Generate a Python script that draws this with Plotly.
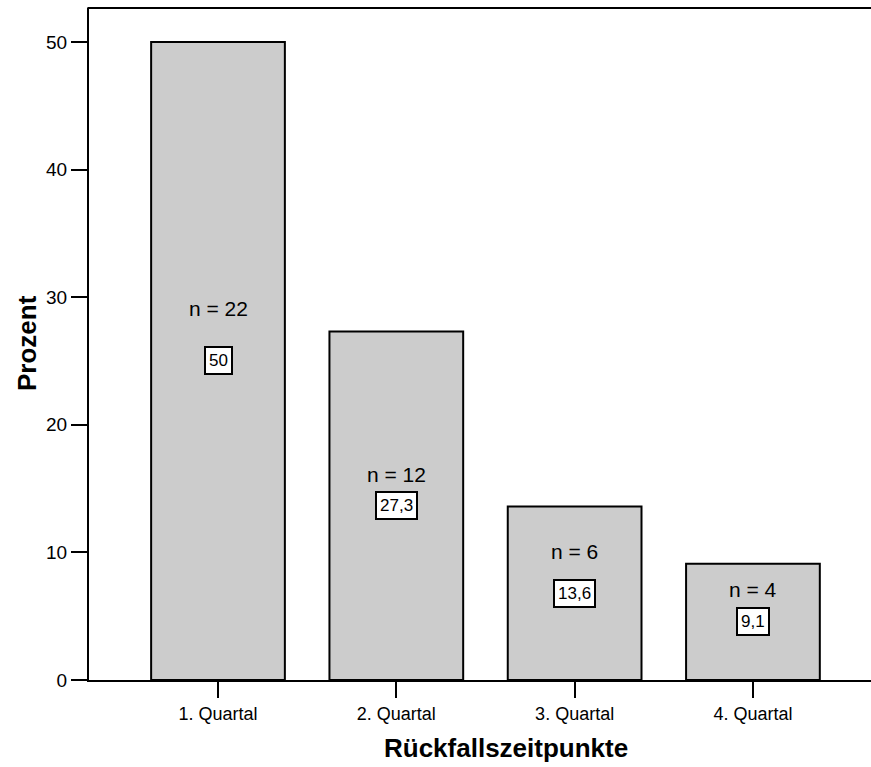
import plotly.graph_objects as go

categories = ["1. Quartal", "2. Quartal", "3. Quartal", "4. Quartal"]
percent = [50.0, 27.3, 13.6, 9.1]
counts = [22, 12, 6, 4]
y_ticks = [0, 10, 20, 30, 40, 50]

# label placement (layout, data units)
n_label_y = [29.1, 16.1, 10.1, 7.1]

FONT = "Liberation Sans, Arial, Helvetica, sans-serif"

fig = go.Figure()
fig.add_trace(go.Bar(
    x=list(range(len(categories))),
    y=percent,
    marker=dict(color="#cccccc", line=dict(color="black", width=2)),
    width=0.75,
    hoverinfo="skip",
))

for i, (v, n) in enumerate(zip(percent, counts)):
    fig.add_annotation(x=i, y=n_label_y[i], text=f"n = {n}", showarrow=False,
                       font=dict(family=FONT, size=21, color="black"),
                       xanchor="center", yanchor="middle")
    txt = ("%g" % v).replace(".", ",")
    fig.add_annotation(x=i, y=v / 2, text=txt, showarrow=False,
                       font=dict(family=FONT, size=17, color="black"),
                       bgcolor="white", bordercolor="black", borderwidth=2,
                       borderpad=3, xanchor="center", yanchor="middle")

# axis titles
fig.add_annotation(xref="paper", yref="paper", x=0.5332, y=-0.1012,
                   text="<b>Rückfallszeitpunkte</b>", showarrow=False,
                   font=dict(family=FONT, size=26, color="black"),
                   xanchor="center", yanchor="middle")
fig.add_annotation(xref="paper", yref="paper", x=-0.0793, y=0.5015,
                   text="<b>Prozent</b>", showarrow=False, textangle=-90,
                   font=dict(family=FONT, size=26, color="black"),
                   xanchor="center", yanchor="middle")

fig.add_shape(type="line", xref="paper", yref="paper", x0=-0.002, x1=1.02, y0=1, y1=1,
              line=dict(color="black", width=2))

fig.update_layout(
    width=871, height=767,
    margin=dict(l=89, r=0, t=8, b=87),
    paper_bgcolor="white", plot_bgcolor="white",
    showlegend=False,
    font=dict(family=FONT, color="black"),
    xaxis=dict(
        range=[-0.7234, 3.662],
        tickvals=list(range(len(categories))),
        ticktext=categories,
        ticks="outside", ticklen=16, tickwidth=2, tickcolor="black",
        showline=True, linecolor="black", linewidth=2,
        showgrid=False, zeroline=False,
        tickfont=dict(family=FONT, size=18, color="black"),
    ),
    yaxis=dict(
        range=[0, 52.66],
        tickvals=y_ticks,
        ticks="outside", ticklen=16, tickwidth=2, tickcolor="black",
        showline=True, linecolor="black", linewidth=2,
        showgrid=False, zeroline=False,
        tickfont=dict(family=FONT, size=19, color="black"),
    ),
)

fig.write_html("out.html", config={"displayModeBar": False},
               post_script="document.body.style.margin='0';document.body.style.overflow='hidden';")
